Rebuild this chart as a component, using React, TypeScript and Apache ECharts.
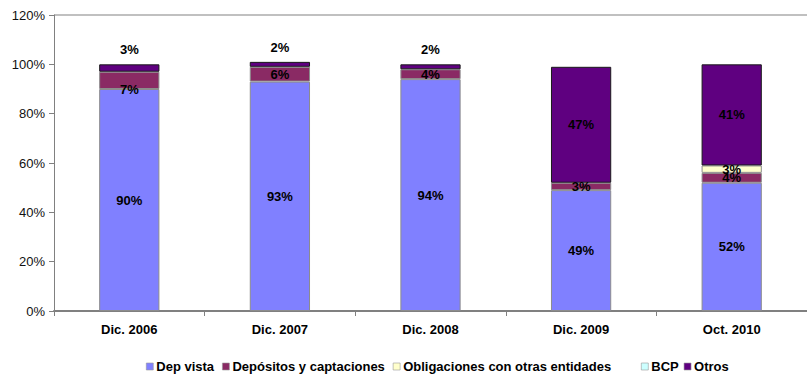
import React, { useEffect, useRef } from "react";
import * as echarts from "echarts";

// Periods on the horizontal axis
const categories = ["Dic. 2006", "Dic. 2007", "Dic. 2008", "Dic. 2009", "Oct. 2010"];

// Share of funding sources (%) per period
const depVista = [90, 93, 94, 49, 52];
const depositos = [7, 6, 4, 3, 4];
const obligaciones = [0, 0, 0, 0, 3];
const bcp = [0, 0, 0, 0, 0];
const otros = [3, 2, 2, 47, 41];

const yTicks = [0, 20, 40, 60, 80, 100, 120];

const FONT = 'Arial, "Liberation Sans", sans-serif';

const App: React.FC = () => {
  const ref = useRef<HTMLDivElement>(null);

  useEffect(() => {
    if (!ref.current) return;
    const chart = echarts.init(ref.current, undefined, { renderer: "svg" });

    const labelBase = {
      show: true,
      color: "#000",
      fontWeight: "bold" as const,
      fontSize: 13,
      fontFamily: FONT,
      formatter: (p: any) => (p.value ? `${p.value}%` : ""),
    };

    const toData = (arr: number[]) => arr.map((v) => (v === 0 ? "-" : v));

    const makeSeries = (
      name: string,
      values: number[],
      color: string,
      border: string
    ) => ({
      name,
      type: "bar",
      stack: "total",
      barWidth: "40%",
      data: toData(values) as any[],
      itemStyle: { color, borderColor: border, borderWidth: 1 },
      label: { ...labelBase, position: "inside" },
    });

    // The first "Depósitos" label sits on the lower edge of its segment
    const depSeries: any = makeSeries("Depósitos y captaciones", depositos, "#8A2A64", "#8c8c8c");
    depSeries.data = depositos.map((v, i) =>
      i === 0 ? { value: v, label: { offset: [0, 9] } } : v === 0 ? "-" : v
    );

    // Small "Otros" shares are labelled above the bar
    const otrosSeries: any = makeSeries("Otros", otros, "#5F0080", "#1a1a1a");
    otrosSeries.data = otros.map((v) =>
      v === 0
        ? "-"
        : v < 10
        ? { value: v, label: { position: "top", distance: 8 } }
        : v
    );

    const legendBase = {
      top: 360,
      padding: 0,
      itemWidth: 7,
      itemHeight: 7,
      icon: "rect",
      itemStyle: { borderWidth: 0.6, borderColor: "#999" },
      textStyle: {
        color: "#000",
        fontWeight: "bold",
        fontSize: 13,
        fontFamily: FONT,
        padding: [0, 0, 0, -2],
      },
    };

    const option: any = {
      animation: false,
      backgroundColor: "#fff",
      grid: { left: 54, top: 15, right: -13, bottom: 64 },
      legend: [
        {
          ...legendBase,
          left: 146,
          itemGap: 8,
          data: ["Dep vista", "Depósitos y captaciones", "Obligaciones con otras entidades"],
        },
        {
          ...legendBase,
          left: 641,
          itemGap: 5,
          data: ["BCP", "Otros"],
        },
      ],
      xAxis: {
        type: "category",
        data: categories,
        axisLine: { lineStyle: { color: "#808080", width: 2 } },
        axisTick: { show: true, length: 5, lineStyle: { color: "#808080" } },
        axisLabel: {
          color: "#000",
          fontWeight: "bold",
          fontSize: 13,
          fontFamily: FONT,
          margin: 12,
        },
      },
      yAxis: {
        type: "value",
        min: 0,
        max: 120,
        interval: 20,
        axisLine: { show: true, lineStyle: { color: "#808080", width: 1 } },
        axisTick: { show: true, length: 5, lineStyle: { color: "#808080" } },
        axisLabel: {
          color: "#111",
          fontSize: 13,
          fontFamily: FONT,
          margin: 9,
          formatter: "{value}%",
        },
        splitLine: {
          show: true,
          lineStyle: {
            color: yTicks.map((t, i) => (i === yTicks.length - 1 ? "#c0c0c0" : "rgba(0,0,0,0)")),
            width: 2,
          },
        },
      },
      series: [
        makeSeries("Dep vista", depVista, "#8080FF", "#8c8c8c"),
        depSeries,
        makeSeries("Obligaciones con otras entidades", obligaciones, "#FFFFCC", "#8c8c8c"),
        makeSeries("BCP", bcp, "#CCFFFF", "#8c8c8c"),
        otrosSeries,
      ],
    };

    chart.setOption(option);
    return () => chart.dispose();
  }, []);

  return <div ref={ref} style={{ width: 807, height: 375, position: "absolute", left: 0, top: 0 }} />;
};

export default App;
